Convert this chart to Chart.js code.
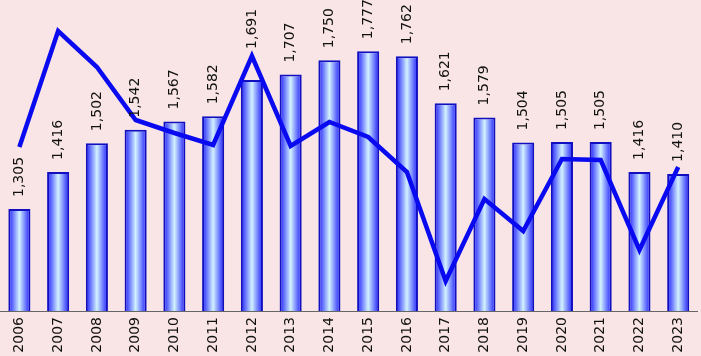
<!DOCTYPE html>
<html>
<head>
<meta charset="utf-8">
<script src="https://cdn.jsdelivr.net/npm/chart.js@4"></script>
<style>
  html, body { margin: 0; padding: 0; background: #f9e5e5; }
  #wrap { width: 701px; height: 356px; }
</style>
</head>
<body>
<div id="wrap"><canvas id="myChart"></canvas></div>
<script>
var years = ['2006','2007','2008','2009','2010','2011','2012','2013','2014','2015','2016','2017','2018','2019','2020','2021','2022','2023'];
var barValues = [1305,1416,1502,1542,1567,1582,1691,1707,1750,1777,1762,1621,1579,1504,1505,1505,1416,1410];
// line has no labels in the picture, values read on its own hidden axis
var lineValues = [164,280,244,191,178,166,255,165,189,174,139,30,112,80,152,151,61,144];

var barPct = 0.57;
var fontFam = '"DejaVu Sans", Verdana, sans-serif';

function barGradient(c) {
  var chart = c.chart;
  var x = chart.scales.x;
  var area = chart.chartArea;
  if (!x || !area) return '#6a7cff';
  var cx = x.getPixelForValue(c.dataIndex);
  var w = (area.right - area.left) / years.length * barPct;
  var g = chart.ctx.createLinearGradient(cx - w / 2, 0, cx + w / 2, 0);
  g.addColorStop(0, '#1a1aff');
  g.addColorStop(0.5, '#d2f2ff');
  g.addColorStop(1, '#1a1aff');
  return g;
}

var barLabels = {
  id: 'barLabels',
  afterDatasetsDraw: function(chart) {
    var ctx = chart.ctx;
    var meta = chart.getDatasetMeta(1);
    ctx.save();
    ctx.font = '14px ' + fontFam;
    ctx.fillStyle = '#111';
    ctx.textAlign = 'left';
    ctx.textBaseline = 'middle';
    meta.data.forEach(function(bar, i) {
      // the 2012 label sits above the line peak
      var gap = i === 6 ? 31 : 12;
      ctx.save();
      ctx.translate(bar.x, bar.y - gap);
      ctx.rotate(-Math.PI / 2);
      ctx.fillText(barValues[i].toLocaleString('en-US'), 0, 0);
      ctx.restore();
    });
    ctx.restore();
  }
};

var ctx = document.getElementById('myChart').getContext('2d');
var myChart = new Chart(ctx, {
  data: {
    labels: years,
    datasets: [{
      type: 'line',
      data: lineValues,
      yAxisID: 'y2',
      borderColor: '#0a0af0',
      borderWidth: 4.5,
      pointRadius: 0,
      tension: 0,
      fill: false,
      borderJoinStyle: 'miter',
      order: 0
    }, {
      type: 'bar',
      data: barValues,
      yAxisID: 'y',
      backgroundColor: barGradient,
      borderColor: '#1010c0',
      borderWidth: 2,
      borderSkipped: 'bottom',
      barPercentage: barPct,
      categoryPercentage: 1,
      order: 1
    }]
  },
  options: {
    responsive: true,
    maintainAspectRatio: false,
    animation: false,
    layout: { padding: 0 },
    plugins: { legend: { display: false }, tooltip: { enabled: false } },
    scales: {
      x: {
        grid: { display: false, drawTicks: false },
        border: { display: true, color: '#666', width: 1 },
        ticks: {
          color: '#111',
          font: { size: 14, family: fontFam },
          maxRotation: 90, minRotation: 90,
          padding: 6,
          autoSkip: false
        },
        afterFit: function(scale) { scale.height = 45; }
      },
      y: {
        display: false,
        min: 1000,
        max: 1930
      },
      y2: {
        display: false,
        min: 0,
        max: 311
      }
    }
  },
  plugins: [barLabels]
});
</script>
</body>
</html>
